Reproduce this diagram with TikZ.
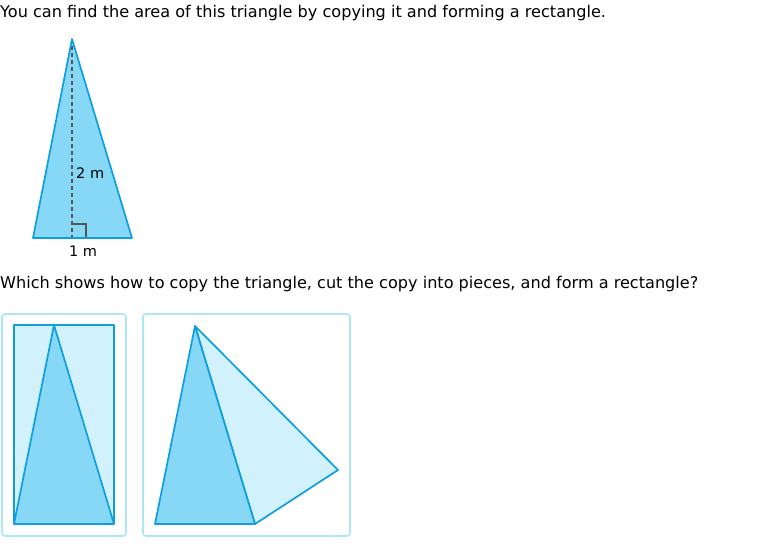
\documentclass[tikz,border=0pt]{standalone}
\usepackage{fontspec}
\setmainfont{DejaVu Sans}
\usetikzlibrary{positioning}
\definecolor{edgeblue}{HTML}{0E9FE0}
\definecolor{darkfill}{HTML}{87D7F7}
\definecolor{lightfill}{HTML}{D1F1FC}
\definecolor{boxline}{HTML}{ABE6F9}
\definecolor{markgray}{HTML}{555555}
\tikzset{
  piece/.style={draw=edgeblue,line width=1.7pt,line join=round},
  choicebox/.style={draw=boxline,line width=1.6pt,rounded corners=3pt},
  prompt/.style={anchor=base west,inner sep=0pt,font=\fontsize{16.1}{19}\selectfont},
  measure/.style={inner sep=0pt,font=\fontsize{14.5}{17}\selectfont}
}
\begin{document}
\begin{tikzpicture}[x=1pt,y=-1pt]
\useasboundingbox (0,0) rectangle (760,554);
% question text
\node[prompt] (intro) at (0,17) {You can find the area of this triangle by copying it and forming a rectangle.};
\node[prompt] (question) at (0,288) {Which shows how to copy the triangle, cut the copy into pieces, and form a rectangle?};
% given triangle
\coordinate (top) at (72,39);
\coordinate (bl) at (33,238);
\coordinate (br) at (132,238);
\coordinate (foot) at (72,238);
\fill[darkfill] (top) -- (br) -- (bl) -- cycle;
\draw[markgray,line width=1.6pt,dash pattern=on 4pt off 3pt] (top) -- (foot);
\draw[markgray,line width=1.6pt] (72,224) -- (86,224) -- (86,238);
\draw[piece] (top) -- (br) -- (bl) -- cycle;
\node[measure,anchor=base west] (height) at (76,178) {2 m};
\node[measure,anchor=base] (base) at (83,256) {1 m};
% choice A
\draw[choicebox] (2,314) rectangle (126,536);
\coordinate (a1) at (14,325);
\coordinate (a2) at (114,325);
\coordinate (a3) at (114,524);
\coordinate (a4) at (14,524);
\coordinate (atop) at (54,325);
\filldraw[piece,fill=lightfill] (a1) -- (a2) -- (a3) -- (a4) -- cycle;
\filldraw[piece,fill=darkfill] (atop) -- (a3) -- (a4) -- cycle;
% choice B
\draw[choicebox] (143,314) rectangle (350,536);
\coordinate (btop) at (195,326);
\coordinate (bl2) at (155,524);
\coordinate (br2) at (255,524);
\coordinate (bout) at (338,470);
\filldraw[piece,fill=lightfill] (btop) -- (bout) -- (br2) -- cycle;
\filldraw[piece,fill=darkfill] (btop) -- (br2) -- (bl2) -- cycle;
\end{tikzpicture}
\end{document}
